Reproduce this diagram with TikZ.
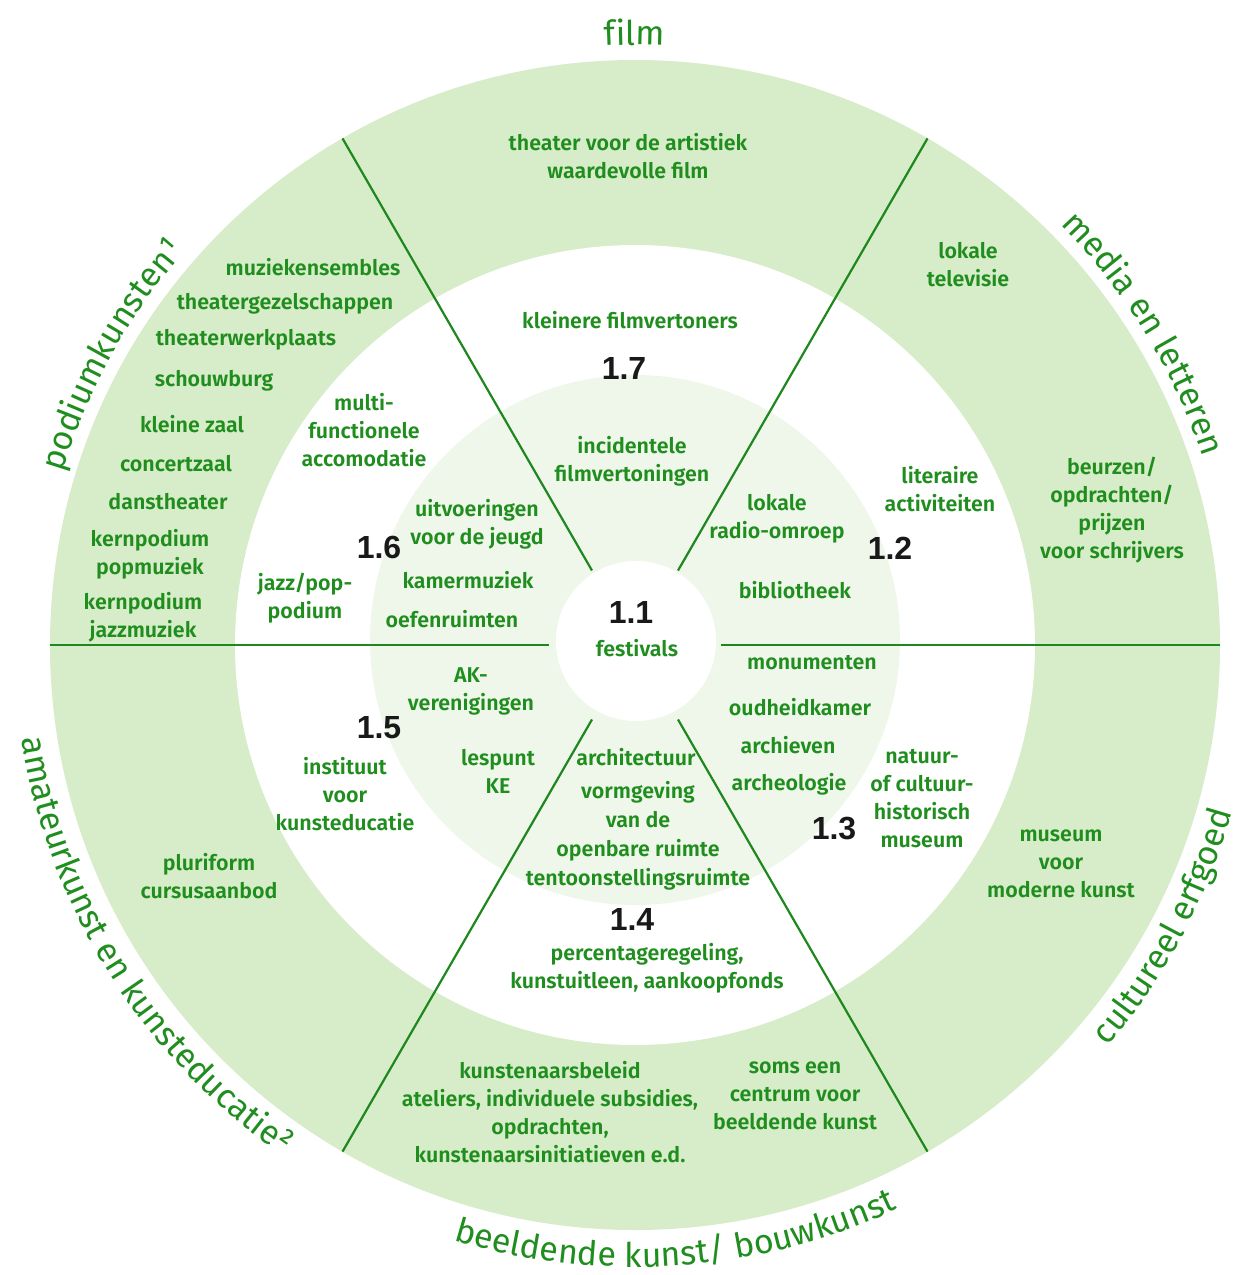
\documentclass[tikz,border=0pt]{standalone}
\usepackage{fontspec}
\setmainfont{Fira Sans}
\newfontfamily\labfont{Fira Sans SemiBold}
\newfontfamily\numfont{Liberation Sans}
\usetikzlibrary{decorations.text}
\definecolor{tgreen}{RGB}{32,142,30}
\definecolor{lgreen}{RGB}{30,135,30}
\definecolor{ringgreen}{RGB}{215,236,200}
\definecolor{faintgreen}{RGB}{239,247,234}
\definecolor{numblack}{RGB}{25,25,25}
\newcommand{\catfmt}{\color{tgreen}\fontsize{34}{34}\selectfont}
\begin{document}
\begin{tikzpicture}[x=1pt,y=1pt,
  lab/.style={text=tgreen, font=\labfont\fontsize{21.4}{28}\selectfont, align=center, inner sep=0pt},
  num/.style={text=numblack, font=\numfont\bfseries\fontsize{32}{32}\selectfont, inner sep=0pt},
  spoke/.style={draw=lgreen, line width=2.2pt},
  curved/.style={decorate, decoration={text along path, text align=center, text={#1}}}
]
\fill[white] (0,0) rectangle (1245,-1275);
\useasboundingbox (0,0) rectangle (1245,-1275);
\coordinate (c) at (635,-645);
\coordinate (fc) at (635,-640);
\coordinate (cc) at (636,-641);
% discs
\fill[ringgreen] (c) circle[radius=585pt];
\fill[white] (c) circle[radius=400pt];
\fill[faintgreen] (fc) circle[radius=265pt];
\fill[white] (cc) circle[radius=80pt];
% spokes
\foreach \a in {0,60,...,300}{
  \coordinate (s\a) at ([shift={(\a:86pt)}]c);
  \coordinate (e\a) at ([shift={(\a:585pt)}]c);
  \draw[spoke] (s\a) -- (e\a);
}
% curved category labels
\path[curved={|\catfmt|film}] ([shift={(105:600pt)}]c) arc[start angle=105, end angle=75, radius=600pt];
\path[curved={|\catfmt|media en letteren}] ([shift={(61.5:598pt)}]c) arc[start angle=61.5, end angle=1.5, radius=598pt];
\path[curved={|\catfmt|podiumkunsten¹}] ([shift={(180:598pt)}]c) arc[start angle=180, end angle=122, radius=598pt];
\path[curved={|\catfmt|cultureel erfgoed}] ([shift={(-58:620pt)}]c) arc[start angle=-58, end angle=2, radius=620pt];
\path[curved={|\catfmt|beeldende kunst/ bouwkunst}] ([shift={(-131:622pt)}]c) arc[start angle=-131, end angle=-41, radius=622pt];
\path[curved={|\catfmt|amateurkunst en kunsteducatie²}] ([shift={(167:620pt)}]c) arc[start angle=167, end angle=257, radius=620pt];
% outer ring labels
\node[lab] (theater) at (628,-156) {theater voor de artistiek\\waardevolle film};
\node[lab] (lokaletv) at (968,-265) {lokale\\televisie};
\node[lab] (beurzen) at (1112,-510) {beurzen/\\opdrachten/\\prijzen\\voor schrijvers};
\node[lab] (muziekens) at (313,-267) {muziekensembles};
\node[lab] (theatergez) at (285,-304) {theatergezelschappen};
\node[lab] (theaterwerk) at (246,-340) {theaterwerkplaats};
\node[lab] (schouwburg) at (214,-381) {schouwburg};
\node[lab] (kleinezaal) at (192,-424) {kleine zaal};
\node[lab] (concertzaal) at (176,-464) {concertzaal};
\node[lab] (danstheater) at (168,-502) {danstheater};
\node[lab] (kernpop) at (150,-554) {kernpodium\\popmuziek};
\node[lab] (kernjazz) at (143,-617) {kernpodium\\jazzmuziek};
\node[lab] (pluriform) at (209,-876) {pluriform\\cursusaanbod};
\node[lab] (kunstenaars) at (550,-1112) {kunstenaarsbeleid\\ateliers, individuele subsidies,\\opdrachten,\\kunstenaarsinitiatieven e.d.};
\node[lab] (soms) at (795,-1096) {soms een\\centrum voor\\beeldende kunst};
\node[lab] (museummod) at (1061,-864) {museum\\voor\\moderne kunst};
% white ring labels
\node[lab] (kleinere) at (630,-320) {kleinere filmvertoners};
\node[num] (n17) at (624,-368) {1.7};
\node[lab] (literaire) at (940,-489) {literaire\\activiteiten};
\node[num] (n12) at (890,-548) {1.2};
\node[lab] (multi) at (364,-430) {multi-\\functionele\\accomodatie};
\node[lab] (jazzpop) at (305,-598) {jazz/pop-\\podium};
\node[num] (n16) at (379,-547) {1.6};
\node[num] (n15) at (379,-728) {1.5};
\node[lab] (instituut) at (345,-794) {instituut\\voor\\kunsteducatie};
\node[lab] (natuur) at (922,-799) {natuur-\\of cultuur-\\historisch\\museum};
\node[num] (n13) at (834,-828) {1.3};
\node[num] (n14) at (632,-919) {1.4};
\node[lab] (percentage) at (647,-968) {percentageregeling,\\kunstuitleen, aankoopfonds};
% inner disc labels
\node[lab] (incidentele) at (632,-461) {incidentele\\filmvertoningen};
\node[lab] (radio) at (777,-519) {lokale\\radio-omroep};
\node[lab] (bibliotheek) at (795,-590) {bibliotheek};
\node[num] (n11) at (631,-612) {1.1};
\node[lab] (festivals) at (637,-648) {festivals};
\node[lab] (uitvoeringen) at (477,-524) {uitvoeringen\\voor de jeugd};
\node[lab] (kamermuziek) at (468,-580) {kamermuziek};
\node[lab] (oefenruimten) at (452,-619) {oefenruimten};
\node[lab] (ak) at (471,-691) {AK-\\verenigingen};
\node[lab] (lespunt) at (498,-771) {lespunt\\KE};
\node[lab] (architectuur) at (636,-757) {architectuur};
\node[lab, font=\labfont\fontsize{21.4}{29}\selectfont] (vormgeving) at (638,-836) {vormgeving\\van de\\openbare ruimte\\tentoonstellingsruimte};
\node[lab] (monumenten) at (812,-663) {monumenten};
\node[lab] (oudheidkamer) at (800,-707) {oudheidkamer};
\node[lab] (archieven) at (788,-745) {archieven};
\node[lab] (archeologie) at (789,-784) {archeologie};
\end{tikzpicture}
\end{document}
